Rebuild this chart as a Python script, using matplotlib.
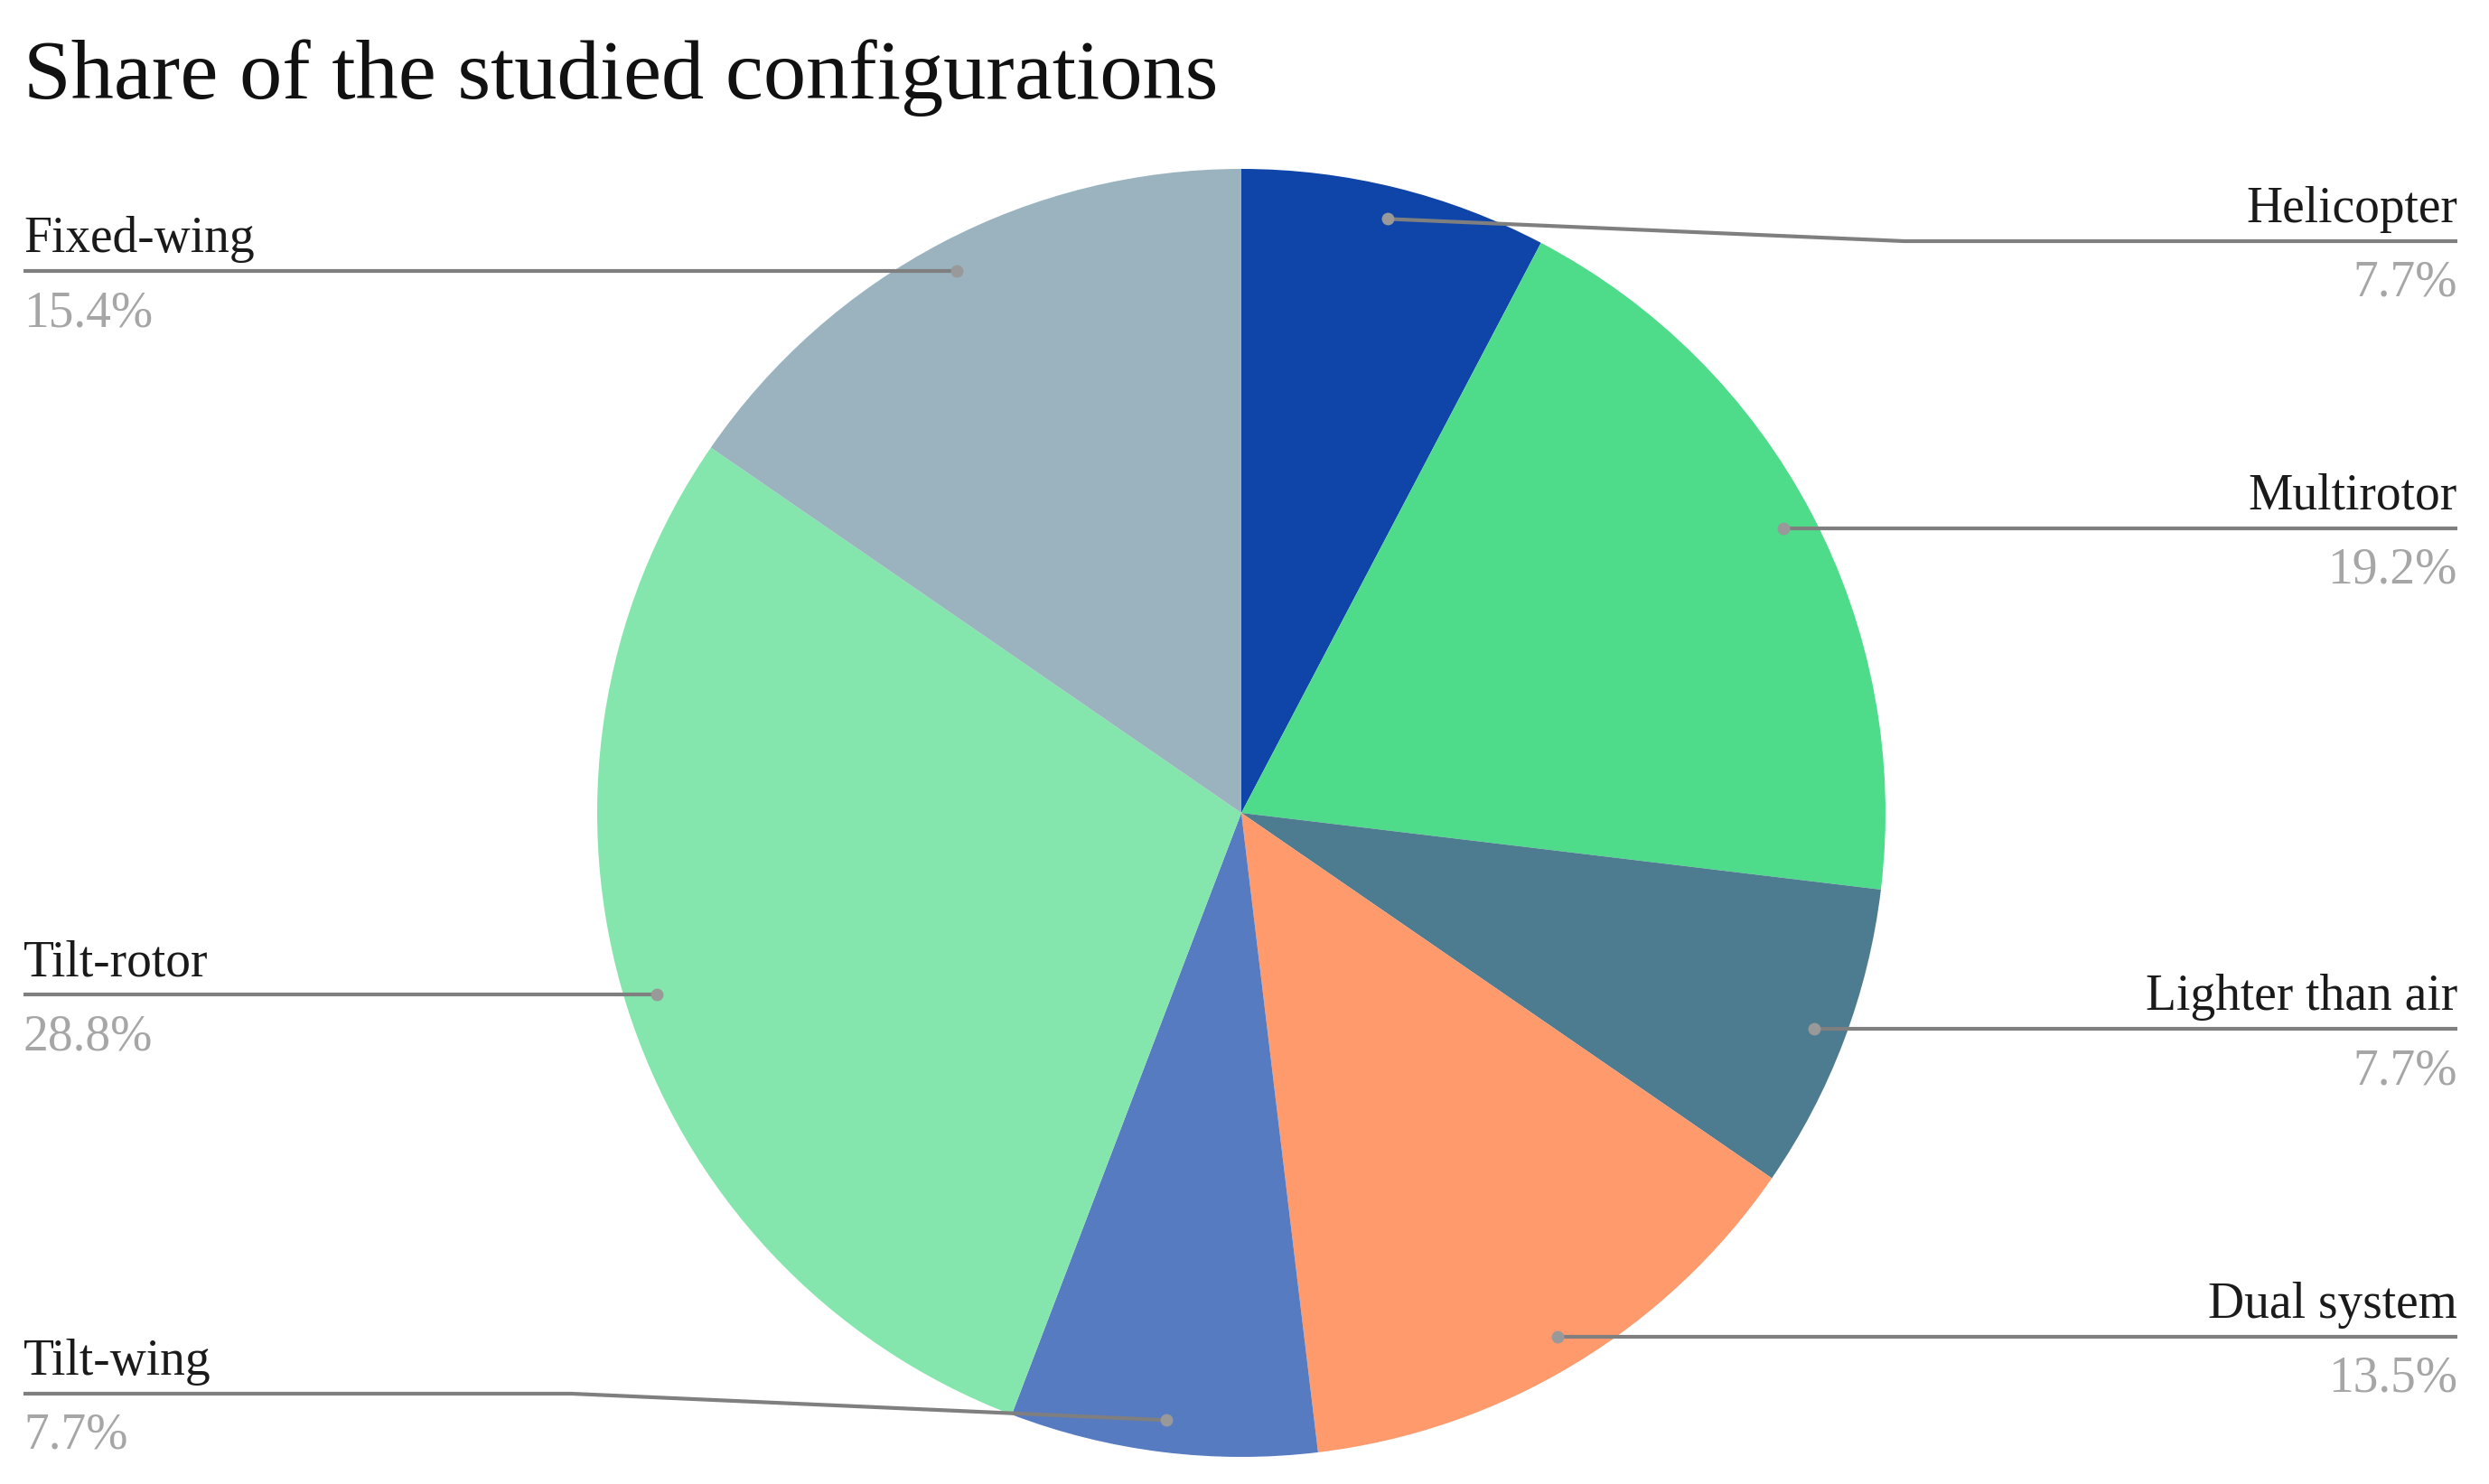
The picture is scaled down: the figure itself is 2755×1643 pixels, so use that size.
import numpy as np
import matplotlib
matplotlib.use("Agg")
import matplotlib.pyplot as plt

# data, clockwise from 12 o'clock
categories = ["Helicopter", "Multirotor", "Lighter than air", "Dual system",
              "Tilt-wing", "Tilt-rotor", "Fixed-wing"]
shares = [7.7, 19.2, 7.7, 13.5, 7.7, 28.8, 15.4]
pct_labels = ["7.7%", "19.2%", "7.7%", "13.5%", "7.7%", "28.8%", "15.4%"]
colors = ["#0f44a8", "#4edc8a", "#4d7b8f", "#ff9a6c", "#577bc1", "#84e6ac", "#9ab3be"]

# layout (pixel space, y up)
W, H = 2755, 1643
CX, CY, R = 1374, 743, 713
LEFT_X, RIGHT_X = 26, 2720
side = {"Helicopter": "right", "Multirotor": "right", "Lighter than air": "right",
        "Dual system": "right", "Tilt-wing": "left", "Tilt-rotor": "left", "Fixed-wing": "left"}
# leader lines that had to be moved off the dot height: (line y, elbow x)
nudged = {"Helicopter": (H - 267, 2108), "Tilt-wing": (H - 1543, 633)}

plt.rcParams["font.family"] = ["Liberation Serif", "DejaVu Serif"]

fig = plt.figure(figsize=(W / 100, H / 100), dpi=100)
ax = fig.add_axes([0, 0, 1, 1])
ax.pie(shares, colors=colors, startangle=90, counterclock=False,
       center=(CX, CY), radius=R, wedgeprops=dict(linewidth=0))
ax.set_xlim(0, W)
ax.set_ylim(0, H)
ax.set_aspect("equal")
ax.axis("off")

total = sum(shares)
cum = np.cumsum([0] + shares[:-1])
line_col = "#7f7f7f"
for name, s, c0, pct in zip(categories, shares, cum, pct_labels):
    theta = np.deg2rad(90 - 360 * (c0 + s / 2) / total)
    dx = CX + 0.95 * R * np.cos(theta)
    dy = CY + 0.95 * R * np.sin(theta)
    edge = RIGHT_X if side[name] == "right" else LEFT_X
    ha = "right" if side[name] == "right" else "left"
    if name in nudged:
        ly, ex = nudged[name]
        ax.plot([dx, ex, edge], [dy, ly, ly], color=line_col, lw=3, zorder=3,
                solid_capstyle="butt")
    else:
        ly = dy
        ax.plot([dx, edge], [ly, ly], color=line_col, lw=3, zorder=3,
                solid_capstyle="butt")
    ax.plot(dx, dy, "o", ms=9, color="#999999", zorder=4)
    ax.text(edge, ly + 21, name, ha=ha, va="baseline", fontsize=40, color="#1a1a1a")
    ax.text(edge, ly - 61, pct, ha=ha, va="baseline", fontsize=40, color="#a6a6a6")

ax.text(26, H - 109, "Share of the studied configurations", ha="left", va="baseline",
        fontsize=68, color="#111111")

fig.savefig("out.png", dpi=100)
plt.close(fig)
